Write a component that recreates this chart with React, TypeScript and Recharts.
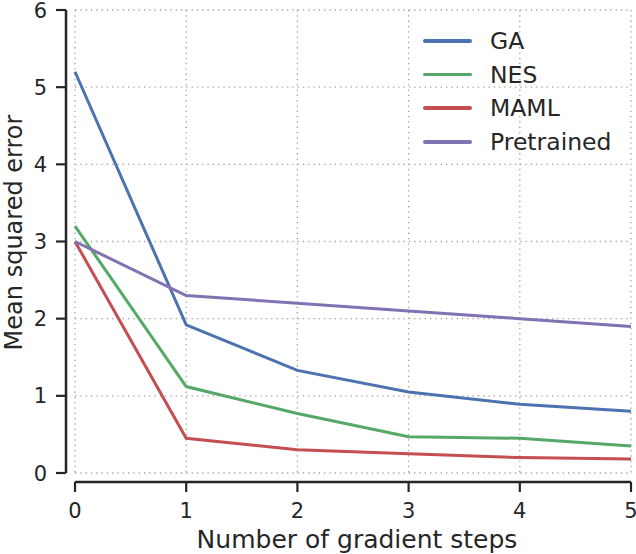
import React from 'react';
import { LineChart, Line, XAxis, YAxis, CartesianGrid, Customized } from 'recharts';

const steps = [0, 1, 2, 3, 4, 5];
const gaValues = [5.2, 1.92, 1.33, 1.05, 0.89, 0.8];
const nesValues = [3.2, 1.12, 0.77, 0.47, 0.45, 0.35];
const mamlValues = [3.0, 0.45, 0.3, 0.25, 0.2, 0.18];
const pretrainedValues = [3.0, 2.3, 2.2, 2.1, 2.0, 1.9];
const xTicks = [0, 1, 2, 3, 4, 5];
const yTicks = [0, 1, 2, 3, 4, 5, 6];

const seriesNames = ['GA', 'NES', 'MAML', 'Pretrained'];
const seriesColors = ['#4C72B0', '#55A868', '#C44E52', '#8172B2'];

const data = steps.map((step, i) => ({
  step,
  GA: gaValues[i],
  NES: nesValues[i],
  MAML: mamlValues[i],
  Pretrained: pretrainedValues[i],
}));

const W = 636;
const H = 554;
const PLOT_LEFT = 75;
const PLOT_RIGHT = 631;
const PLOT_TOP = 10;
const PLOT_BOTTOM = 473;
const OFFSET = 9;
const INK = '#262626';
const FONT = '"DejaVu Sans", sans-serif';

const XTick = (props: any) => {
  const { x, payload } = props;
  return (
    <g>
      <line x1={x} x2={x} y1={PLOT_BOTTOM + OFFSET} y2={PLOT_BOTTOM + OFFSET + 10} stroke={INK} strokeWidth={2.2} />
      <text x={x} y={PLOT_BOTTOM + 45} textAnchor="middle" fontSize={21} fill={INK} fontFamily={FONT}>
        {payload.value}
      </text>
    </g>
  );
};

const YTick = (props: any) => {
  const { y, payload } = props;
  return (
    <g>
      <line x1={PLOT_LEFT - OFFSET - 10} x2={PLOT_LEFT - OFFSET} y1={y} y2={y} stroke={INK} strokeWidth={2.2} />
      <text x={PLOT_LEFT - 28} y={y + 7.5} textAnchor="end" fontSize={21} fill={INK} fontFamily={FONT}>
        {payload.value}
      </text>
    </g>
  );
};

// offset spines + axis titles, seaborn despine(offset) style
const Frame = () => (
  <g>
    <line x1={PLOT_LEFT} x2={PLOT_RIGHT} y1={PLOT_BOTTOM + OFFSET} y2={PLOT_BOTTOM + OFFSET} stroke={INK} strokeWidth={2.5} />
    <line x1={PLOT_LEFT - OFFSET} x2={PLOT_LEFT - OFFSET} y1={PLOT_TOP} y2={PLOT_BOTTOM} stroke={INK} strokeWidth={2.5} />
    <text x={(PLOT_LEFT + PLOT_RIGHT) / 2 + 4} y={548} textAnchor="middle" fontSize={25} fill={INK} fontFamily={FONT}>
      Number of gradient steps
    </text>
    <text
      x={0}
      y={0}
      transform={`translate(22, ${(PLOT_TOP + PLOT_BOTTOM) / 2 - 9}) rotate(-90)`}
      textAnchor="middle"
      fontSize={24}
      fill={INK}
      fontFamily={FONT}
    >
      Mean squared error
    </text>
  </g>
);

const LegendBox = () => (
  <div
    style={{
      position: 'absolute',
      left: 415,
      top: 24,
      fontFamily: FONT,
      fontSize: 23.5,
      color: INK,
    }}
  >
    {seriesNames.map((name, i) => (
      <div key={name} style={{ display: 'flex', alignItems: 'center', height: 33.7 }}>
        <div style={{ width: 49, height: 3.5, background: seriesColors[i], marginLeft: 8, borderRadius: 2 }} />
        <span style={{ marginLeft: 18, lineHeight: '24px' }}>{name}</span>
      </div>
    ))}
  </div>
);

export default function App() {
  return (
    <div style={{ position: 'absolute', left: 0, top: 0, width: W, height: H, background: '#fff' }}>
      <LineChart width={W} height={H} data={data} margin={{ top: PLOT_TOP, right: W - PLOT_RIGHT, left: 15, bottom: 0 }}>
        <CartesianGrid stroke="#a0a0a0" strokeWidth={1.3} strokeDasharray="1.3 4" />
        <XAxis
          dataKey="step"
          type="number"
          domain={[0, 5]}
          ticks={xTicks}
          height={H - PLOT_BOTTOM}
          axisLine={false}
          tickLine={false}
          tickSize={0}
          tickMargin={0}
          tick={<XTick />}
          interval={0}
        />
        <YAxis
          type="number"
          domain={[0, 6]}
          ticks={yTicks}
          width={60}
          axisLine={false}
          tickLine={false}
          tickSize={0}
          tickMargin={0}
          tick={<YTick />}
          interval={0}
        />
        {seriesNames.map((name, i) => (
          <Line
            key={name}
            type="linear"
            dataKey={name}
            stroke={seriesColors[i]}
            strokeWidth={3}
            dot={false}
            isAnimationActive={false}
          />
        ))}
        <Customized component={<Frame />} />
      </LineChart>
      <LegendBox />
    </div>
  );
}
